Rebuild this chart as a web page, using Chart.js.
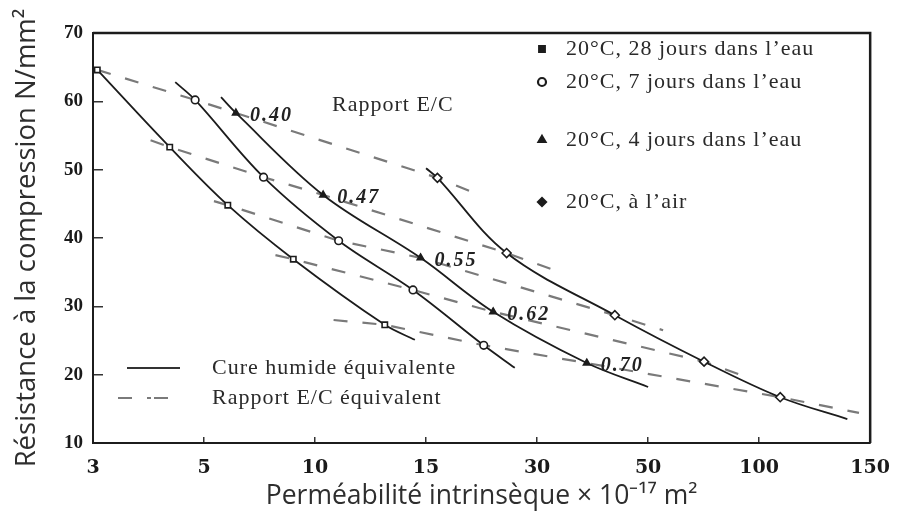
<!DOCTYPE html>
<html lang="fr">
<head>
<meta charset="utf-8">
<title>Résistance à la compression et perméabilité</title>
<script src="https://cdn.jsdelivr.net/npm/chart.js@4.4.1/dist/chart.umd.min.js"></script>
<style>
  html, body { margin: 0; padding: 0; background: #fff; }
</style>
</head>
<body>
<canvas id="mycanvas" width="910" height="524"></canvas>
<script>
// tick labels of the (irregular) permeability axis
const xTicks = [3, 5, 10, 15, 30, 50, 100, 150];
const ratios = ['0.40', '0.47', '0.55', '0.62', '0.70'];
const seriesNames = ['20°C, 28 jours dans l’eau', '20°C, 7 jours dans l’eau', '20°C, 4 jours dans l’eau', '20°C, à l’air'];

// one point per E/C ratio (same order as ratios)
const perm28 = [3.06, 4.27, 5.80, 8.73, 12.9];
const res28  = [64.6, 53.3, 44.8, 36.9, 27.3];
const perm7  = [4.80, 7.25, 10.9, 14.3, 21.5];
const res7   = [60.2, 48.9, 39.6, 32.4, 24.3];
const perm4  = [6.10, 10.3, 14.7, 22.8, 37.7];
const res4   = [58.3, 46.3, 37.1, 29.2, 21.7];
const permAir = [16.1, 24.8, 42.9, 70.9, 108];
const resAir  = [48.8, 37.8, 28.7, 21.9, 16.7];

// solid curves run a bit past their markers (null = curve starts on the marker)
const curveStartPerm = [null, 4.38, 5.56, 15.0];
const curveStartRes  = [null, 62.8, 60.6, 50.2];
const curveEndPerm   = [14.4, 26.1, 50.0, 138];
const curveEndRes    = [25.1, 21.0, 18.2, 13.5];

// dashed E/C lines too
const ratioStartPerm = [null, 3.91, 5.32, 7.81, 10.7];
const ratioStartRes  = [null, 54.3, 45.4, 37.5, 28.0];
const ratioEndPerm   = [20.9, 32.5, 54.9, 92.0, 144];
const ratioEndRes    = [46.3, 35.3, 26.5, 19.7, 14.4];

const permSets = [perm28, perm7, perm4, permAir];
const resSets = [res28, res7, res4, resAir];
const pointStyles = ['rect', 'circle', 'triangle', 'rectRot'];
const ink = '#1c1c1c';
const dashGrey = '#7a7a7a';

// the figure spaces its labelled ticks evenly, log in between
function toTickIndex(v) {
  let i = 0;
  while (i < xTicks.length - 2 && v > xTicks[i + 1]) i++;
  return i + Math.log(v / xTicks[i]) / Math.log(xTicks[i + 1] / xTicks[i]);
}
class TickIndexScale extends Chart.LinearScale {
  parse(raw, index) {
    const v = super.parse(raw, index);
    // only data values get mapped, options (min/max) are already tick positions
    if (v === null || index === undefined) return v;
    return toTickIndex(v);
  }
}
TickIndexScale.id = 'tickIndex';
TickIndexScale.defaults = {};
Chart.register(TickIndexScale);

// solid curves (one per curing condition)
const curveSets = permSets.map(function(perm, k) {
  const data = perm.map((p, i) => ({x: p, y: resSets[k][i], mark: true}));
  if (curveStartPerm[k] !== null) data.unshift({x: curveStartPerm[k], y: curveStartRes[k]});
  data.push({x: curveEndPerm[k], y: curveEndRes[k]});
  return {
    label: seriesNames[k],
    data: data,
    borderColor: ink,
    borderWidth: 1.8,
    tension: 0.35,
    pointStyle: pointStyles[k],
    pointRadius: c => (c.raw && c.raw.mark) ? (k === 3 ? 4.5 : 3.8) : 0,
    pointBorderColor: ink,
    pointBorderWidth: 1.6,
    pointBackgroundColor: k === 2 ? ink : '#fff'
  };
});

// dashed lines joining the same E/C ratio
const ratioSets = ratios.map(function(r, i) {
  const data = permSets.map((perm, k) => ({x: perm[i], y: resSets[k][i]}));
  if (ratioStartPerm[i] !== null) data.unshift({x: ratioStartPerm[i], y: ratioStartRes[i]});
  data.push({x: ratioEndPerm[i], y: ratioEndRes[i]});
  return {
    label: 'E/C ' + r,
    data: data,
    borderColor: dashGrey,
    borderWidth: 2.2,
    borderDash: [14, 15],
    pointRadius: 0,
    tension: 0
  };
});

// legends, frame and E/C labels drawn on top
const figurePlugin = {
  id: 'figure',
  afterDraw(chart) {
    const ctx = chart.ctx;
    const a = chart.chartArea;
    ctx.save();

    // top and right frame
    ctx.strokeStyle = ink;
    ctx.lineWidth = 2.5;
    ctx.beginPath();
    ctx.moveTo(a.left, a.top);
    ctx.lineTo(a.right, a.top);
    ctx.lineTo(a.right, a.bottom);
    ctx.stroke();

    // E/C values next to the 4-day markers
    const ds = chart.data.datasets[2];
    const marks = chart.getDatasetMeta(2).data.filter((el, j) => ds.data[j].mark);
    ctx.fillStyle = '#222';
    ctx.font = 'italic bold 20px "Liberation Serif"';
    ctx.letterSpacing = '2px';
    ctx.textAlign = 'left';
    ctx.textBaseline = 'middle';
    marks.forEach((p, i) => ctx.fillText(ratios[i], p.x + 14, p.y + 3));

    ctx.font = '22px "Liberation Serif"';
    ctx.letterSpacing = '1px';
    ctx.fillStyle = '#2a2a2a';
    ctx.fillText('Rapport E/C', a.left + 239, a.top + 72);

    // marker legend, top right
    const rowY = [16, 49, 107, 169];
    curveSets.forEach(function(s, k) {
      const x = a.left + 449, y = a.top + rowY[k];
      ctx.strokeStyle = ink;
      ctx.fillStyle = (k === 1) ? '#fff' : ink;
      ctx.lineWidth = 2.2;
      Chart.helpers.drawPoint(ctx, {pointStyle: s.pointStyle, radius: 4, rotation: 0, borderWidth: 2.2}, x, y);
      ctx.fillStyle = '#2a2a2a';
      ctx.fillText(s.label, x + 24, y);
    });

    // line legend, bottom left
    const ly1 = a.top + 335, ly2 = a.top + 365;
    ctx.lineWidth = 2;
    ctx.strokeStyle = '#333';
    ctx.beginPath();
    ctx.moveTo(a.left + 34, ly1);
    ctx.lineTo(a.left + 87, ly1);
    ctx.stroke();
    ctx.strokeStyle = dashGrey;
    ctx.lineWidth = 2.2;
    ctx.setLineDash([14, 15, 4, 3]);
    ctx.beginPath();
    ctx.moveTo(a.left + 25, ly2);
    ctx.lineTo(a.left + 86, ly2);
    ctx.stroke();
    ctx.setLineDash([]);
    ctx.fillStyle = '#2a2a2a';
    ctx.fillText('Cure humide équivalente', a.left + 119, ly1);
    ctx.fillText('Rapport E/C équivalent', a.left + 119, ly2);

    ctx.restore();
  }
};

const x = document.getElementById('mycanvas');

const chart = new Chart(x, {
  type: 'line',
  data: { datasets: curveSets.concat(ratioSets) },
  options: {
    responsive: false,
    animation: false,
    devicePixelRatio: 1,
    layout: { padding: { left: 0, right: 35, top: 33, bottom: 0 } },
    plugins: {
      legend: { display: false },
      tooltip: { enabled: false }
    },
    scales: {
      x: {
        type: 'tickIndex',
        min: toTickIndex(xTicks[0]),
        max: toTickIndex(xTicks[xTicks.length - 1]),
        afterFit: s => { s.height = 81; },
        grid: { drawOnChartArea: false, drawTicks: true, tickLength: -6, color: '#333', lineWidth: 1.5 },
        border: { display: true, color: ink, width: 2 },
        ticks: {
          stepSize: 1,
          autoSkip: false,
          maxRotation: 0,
          padding: 20,
          color: '#1a1a1a',
          font: { family: 'DejaVu Serif', weight: 'bold', size: 19 },
          callback: v => xTicks[Math.round(v)]
        },
        title: {
          display: true,
          text: 'Perméabilité intrinsèque × 10⁻¹⁷ m²',
          color: '#2e2e2e',
          font: { family: 'Open Sans', size: 26.5 },
          padding: { top: 0, bottom: 12 }
        }
      },
      y: {
        min: 10,
        max: 70,
        afterFit: s => { s.width = 93; },
        grid: { drawOnChartArea: false, drawTicks: true, tickLength: -10, color: '#333', lineWidth: 1.5 },
        border: { display: true, color: ink, width: 2 },
        ticks: {
          stepSize: 10,
          padding: 20,
          color: '#1a1a1a',
          font: { family: 'Liberation Serif', weight: 'bold', size: 19 }
        },
        title: {
          display: true,
          text: 'Résistance à la compression N/mm²',
          color: '#2e2e2e',
          font: { family: 'Open Sans', size: 27.5 },
          padding: { top: 11, bottom: 0 }
        }
      }
    }
  },
  plugins: [figurePlugin]
});
</script>
</body>
</html>
